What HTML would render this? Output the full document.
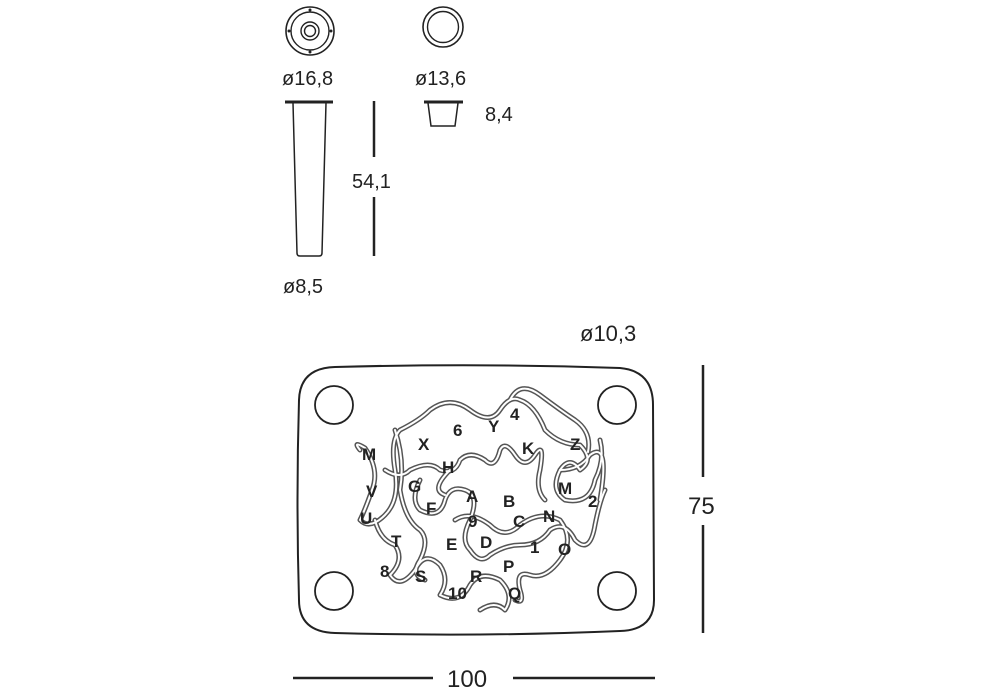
<!DOCTYPE html>
<html><head><meta charset="utf-8"><style>
html,body{margin:0;padding:0;background:#fff;}
svg{display:block;}
text{font-family:"Liberation Sans",sans-serif;fill:#222;}
</style></head><body>
<svg width="1000" height="700" viewBox="0 0 1000 700" xmlns="http://www.w3.org/2000/svg">
<g fill="none" stroke="#222">
 <circle cx="310" cy="31" r="24" stroke-width="1.6"/>
 <circle cx="310" cy="31" r="19" stroke-width="1.4"/>
 <circle cx="310" cy="31" r="9" stroke-width="1.4"/>
 <circle cx="310" cy="31" r="5.5" stroke-width="1.4"/>
 <circle cx="310" cy="10" r="1" fill="#222"/>
 <circle cx="310" cy="52" r="1" fill="#222"/>
 <circle cx="289" cy="31" r="1" fill="#222"/>
 <circle cx="331" cy="31" r="1" fill="#222"/>
 <circle cx="443" cy="27" r="20" stroke-width="1.6"/>
 <circle cx="443" cy="27" r="15.5" stroke-width="1.4"/>
 <line x1="285" y1="102" x2="333" y2="102" stroke-width="3"/>
 <path d="M293 103 L297 253 Q297 256 300 256 L319 256 Q322 256 322 253 L326 103" stroke-width="1.5"/>
 <line x1="374" y1="101" x2="374" y2="157" stroke-width="2.5"/>
 <line x1="374" y1="197" x2="374" y2="256" stroke-width="2.5"/>
 <line x1="424" y1="102" x2="463" y2="102" stroke-width="3"/>
 <path d="M428 103 L431 126 L455 126 L458 103" stroke-width="1.5"/>
 <path d="M335 367 Q480 363 620 368 Q653 371 653 405 L654 600 Q654 630 620 631 Q480 637 335 633 Q299 632 299 600 Q296 500 299 400 Q300 368 335 367 Z" stroke-width="2"/>
 <circle cx="334" cy="405" r="19" stroke-width="1.8"/>
 <circle cx="617" cy="405" r="19" stroke-width="1.8"/>
 <circle cx="334" cy="591" r="19" stroke-width="1.8"/>
 <circle cx="617" cy="591" r="19" stroke-width="1.8"/>
 <line x1="703" y1="365" x2="703" y2="477" stroke-width="2.5"/>
 <line x1="703" y1="525" x2="703" y2="633" stroke-width="2.5"/>
 <line x1="293" y1="678" x2="433" y2="678" stroke-width="2.5"/>
 <line x1="513" y1="678" x2="655" y2="678" stroke-width="2.5"/>
</g>
<defs>
 <g id="paths">
  <path d="M360 450 Q352 440 365 448 Q380 470 372 490 Q365 510 360 520 Q370 530 385 515 Q400 500 395 470 Q390 440 400 430 Q420 420 430 410 Q450 395 470 410 Q490 425 500 410 Q510 395 520 400 Q535 405 545 430 Q560 445 580 445 Q595 460 580 470 Q570 455 560 470 Q550 490 565 500 Q590 505 595 480 Q605 460 600 440"/>
  <path d="M385 470 Q400 480 410 470 Q430 460 440 470 Q455 475 460 460 Q470 450 485 460 Q495 470 500 450 Q505 440 515 455 Q525 470 535 455 Q545 440 540 470 Q535 490 545 500"/>
  <path d="M420 480 Q410 500 420 510 Q440 520 445 500 Q450 485 465 490 Q480 495 470 520 Q460 540 470 550 Q480 565 490 555 Q505 545 520 545 Q540 545 550 530 Q565 520 575 540 Q590 555 595 525 Q600 500 605 490"/>
  <path d="M375 520 Q380 540 395 545 Q405 560 390 575 Q400 590 415 570 Q425 550 440 565 Q450 580 440 595 Q460 605 470 585 Q480 570 500 580 Q515 595 505 610 Q495 600 480 610"/>
  <path d="M455 520 Q470 510 490 525 Q505 540 520 525 Q540 510 560 520 Q575 540 560 560 Q545 580 530 575 Q515 570 520 590 Q525 605 515 600"/>
  <path d="M395 430 Q405 460 400 490 Q405 520 420 530 Q430 540 420 560 Q410 575 425 580"/>
  <path d="M450 470 Q430 490 445 495 M510 400 Q520 380 540 395 Q560 410 575 420 Q592 432 588 452 M560 470 Q580 470 590 455 Q610 440 600 500"/>
 </g>
</defs>
<g fill="none" stroke-linecap="round" stroke-linejoin="round">
 <use href="#paths" stroke="#555" stroke-width="5"/>
 <use href="#paths" stroke="#fff" stroke-width="2"/>
</g>
<g font-weight="bold" font-size="17" fill="#222">
 <text x="362" y="460">M</text>
 <text x="418" y="450">X</text><text x="442" y="473">H</text><text x="453" y="436">6</text>
 <text x="488" y="432">Y</text><text x="510" y="420">4</text><text x="522" y="454">K</text>
 <text x="570" y="450">Z</text><text x="408" y="492">G</text><text x="366" y="497">V</text>
 <text x="466" y="502">A</text><text x="503" y="507">B</text><text x="558" y="494">M</text>
 <text x="426" y="514">F</text><text x="360" y="524">U</text><text x="513" y="527">C</text>
 <text x="543" y="522">N</text><text x="588" y="507">2</text><text x="468" y="527">9</text>
 <text x="391" y="547">T</text><text x="446" y="550">E</text><text x="480" y="548">D</text>
 <text x="530" y="553">1</text><text x="558" y="555">O</text><text x="380" y="577">8</text>
 <text x="415" y="582">S</text><text x="470" y="582">R</text><text x="503" y="572">P</text>
 <text x="448" y="599">10</text><text x="508" y="599">Q</text>
</g>
<g font-size="20">
 <text x="282" y="85">ø16,8</text>
 <text x="415" y="85">ø13,6</text>
 <text x="485" y="121">8,4</text>
 <text x="352" y="188">54,1</text>
 <text x="283" y="293">ø8,5</text>
 <text x="580" y="341" font-size="22">ø10,3</text>
 <text x="688" y="514" font-size="24">75</text>
 <text x="447" y="687" font-size="24">100</text>
</g>
</svg>
</body></html>
